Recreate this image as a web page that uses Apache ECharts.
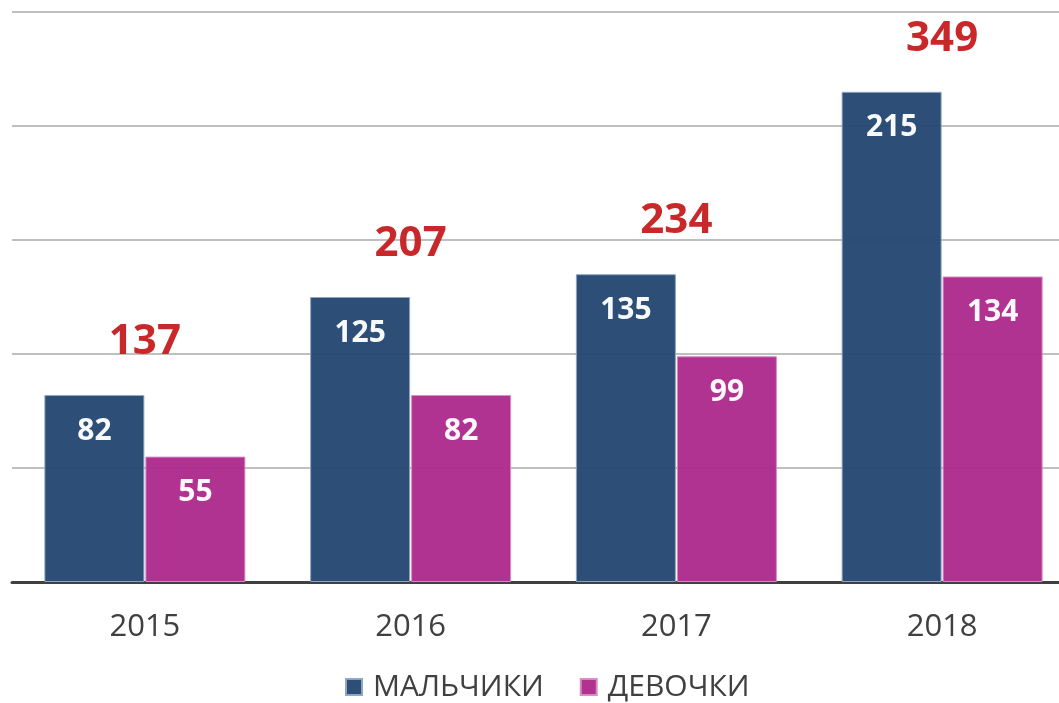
<!DOCTYPE html>
<html>
<head>
<meta charset="utf-8">
<script src="https://cdn.jsdelivr.net/npm/echarts@6/dist/echarts.min.js"></script>
<style>
    html, body {margin: 0; padding: 0; background: #fff;}
    #main {width: 1059px; height: 703px;}
</style>
</head>
<body>
<div id="main"></div>
<script>
// данные
var years = ['2015', '2016', '2017', '2018'];
var boys = [82, 125, 135, 215];
var girls = [55, 82, 99, 134];
var totals = [137, 207, 234, 349];

var font = '"Open Sans", Lato, sans-serif';

var chart = echarts.init(document.getElementById('main'));

// точка для подписи суммы - над более высоким столбцом
var topPoints = years.map(function (y, i) {
    return [y, Math.max(boys[i], girls[i])];
});

chart.setOption({
    animation: false,
    grid: {left: 12, width: 1063, top: 12, bottom: 121, outerBoundsMode: 'none'},
    legend: {
        bottom: -4,
        left: 340,
        itemWidth: 16,
        itemHeight: 16,
        itemGap: 36,
        icon: 'rect',
        textStyle: {fontFamily: font, fontSize: 30, color: '#404040', padding: [0, 0, 0, 6]},
        data: ['МАЛЬЧИКИ', 'ДЕВОЧКИ']
    },
    xAxis: {
        type: 'category',
        data: years,
        axisLine: {lineStyle: {color: '#404040', width: 3}},
        axisTick: {show: false},
        axisLabel: {fontFamily: font, fontSize: 31, color: '#404040', margin: 30}
    },
    yAxis: {
        type: 'value',
        min: 0,
        max: 250,
        interval: 50,
        axisLabel: {show: false},
        axisLine: {show: false},
        splitLine: {lineStyle: {color: '#BFBFBF', width: 2}}
    },
    series: [
        {
            name: 'МАЛЬЧИКИ',
            type: 'bar',
            data: boys,
            barWidth: 100,
            barGap: '1%',
            itemStyle: {color: '#254873', borderColor: '#8FA5C2', borderWidth: 1, opacity: 0.97},
            label: {
                show: true, position: 'insideTop', distance: 21,
                fontFamily: font, fontSize: 30, fontWeight: 'bold', color: '#fff'
            }
        },
        {
            name: 'ДЕВОЧКИ',
            type: 'bar',
            data: girls,
            barWidth: 100,
            itemStyle: {color: '#AE2C8D', borderColor: '#D88CC4', borderWidth: 1, opacity: 0.97},
            label: {
                show: true, position: 'insideTop', distance: 21,
                fontFamily: font, fontSize: 30, fontWeight: 'bold', color: '#fff'
            }
        },
        {
            // суммы
            type: 'scatter',
            data: topPoints,
            symbolSize: 0,
            silent: true,
            itemStyle: {opacity: 1},
            label: {
                show: true, position: 'top', distance: 32,
                fontFamily: font, fontSize: 42, fontWeight: 'bold', color: '#C8282A',
                formatter: function (p) { return totals[p.dataIndex]; }
            }
        }
    ]
});
</script>
</body>
</html>
